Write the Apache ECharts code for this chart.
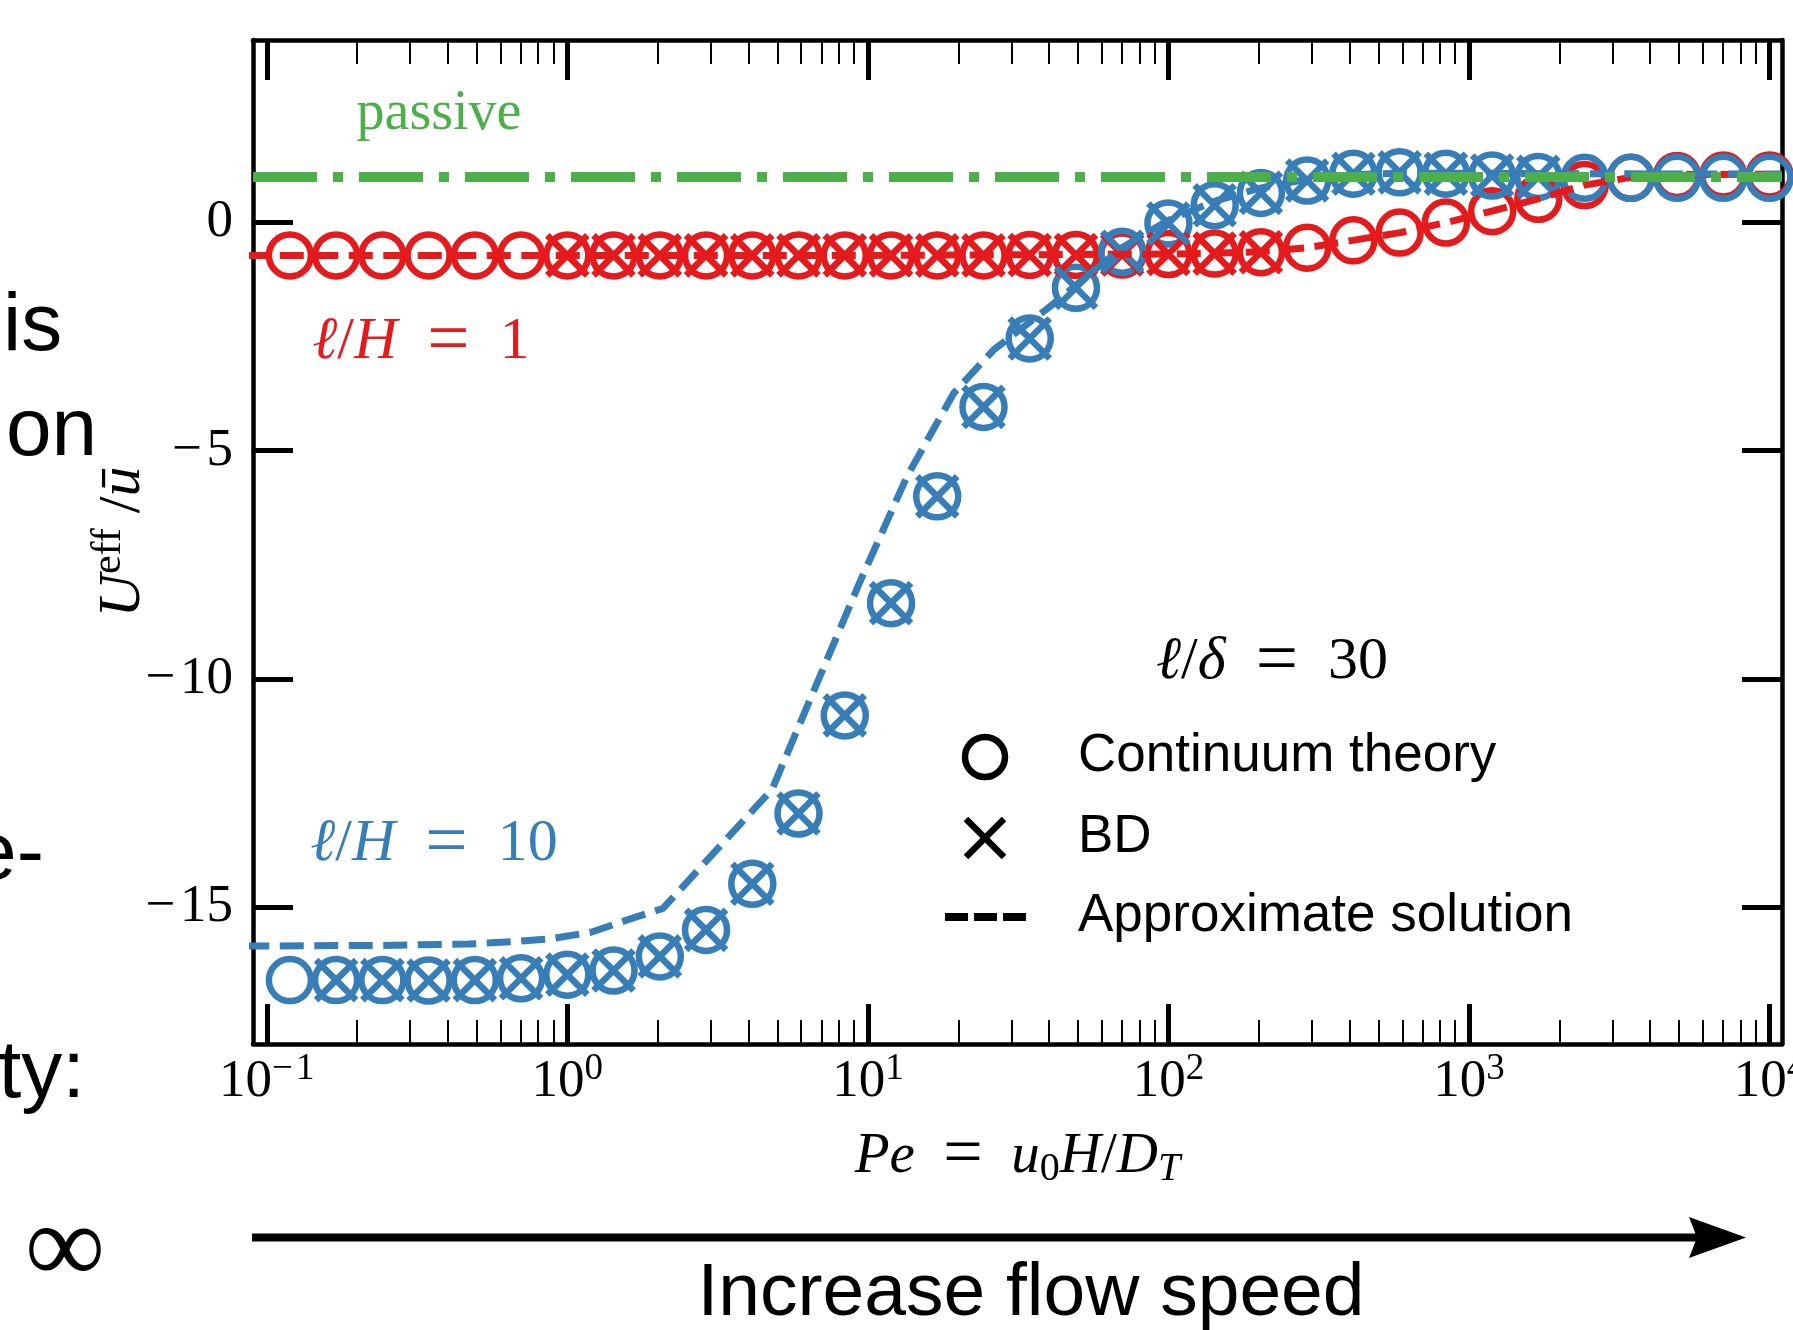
<!DOCTYPE html>
<html><head><meta charset="utf-8">
<script src="https://cdn.jsdelivr.net/npm/echarts@6/dist/echarts.min.js"></script>
<style>html,body{margin:0;padding:0;background:#fff;}#c{width:1793px;height:1330px;}</style>
</head><body><div id="c"></div>
<script>
// ---------------- data ----------------
const pe = [0.1194, 0.1701, 0.2425, 0.3455, 0.4924, 0.7017, 1.0, 1.425, 2.031, 2.894, 4.125, 5.878, 8.377,
  11.94, 17.01, 24.25, 34.55, 49.24, 70.17, 100, 142.5, 203.1, 289.4, 412.5, 587.8, 837.7,
  1194, 1701, 2425, 3455, 4924, 7017, 10000];
const redContinuum = [-0.72, -0.72, -0.72, -0.72, -0.72, -0.72, -0.72, -0.72, -0.72, -0.72, -0.72, -0.72, -0.72,
  -0.72, -0.72, -0.72, -0.71, -0.71, -0.70, -0.69, -0.68, -0.65, -0.55, -0.39, -0.22, 0.0,
  0.25, 0.52, 0.82, 0.98, 1.02, 1.03, 1.03];
const blueContinuum = [-16.60, -16.60, -16.60, -16.61, -16.60, -16.56, -16.48, -16.39, -16.08, -15.50, -14.49, -12.95, -10.80,
  -8.34, -6.00, -4.04, -2.54, -1.43, -0.64, -0.02, 0.38, 0.65, 0.92, 1.07, 1.10, 1.07,
  1.03, 1.00, 0.98, 0.98, 0.98, 0.98, 0.98];
const peBDred = [1.0, 1.425, 2.031, 2.894, 4.125, 5.878, 8.377, 11.94, 17.01, 24.25, 34.55, 49.24, 70.17, 100, 142.5, 203.1];
const redBD = [-0.72, -0.72, -0.72, -0.72, -0.72, -0.72, -0.72, -0.72, -0.72, -0.72, -0.71, -0.71, -0.70, -0.69, -0.68, -0.65];
const peBDblue = [0.1701, 0.2425, 0.3455, 0.4924, 0.7017, 1.0, 1.425, 2.031, 2.894, 4.125, 5.878, 8.377,
  11.94, 17.01, 24.25, 34.55, 49.24, 70.17, 100, 142.5, 203.1, 289.4, 412.5, 587.8, 837.7, 1194, 1701];
const blueBD = [-16.60, -16.60, -16.61, -16.60, -16.56, -16.48, -16.39, -16.08, -15.50, -14.49, -12.95, -10.80,
  -8.34, -6.00, -4.04, -2.54, -1.43, -0.64, -0.02, 0.38, 0.65, 0.92, 1.07, 1.10, 1.07, 1.03, 1.00];
const peApproxRed = [0.05, 10, 100, 150, 200, 290, 410, 590, 840, 1190, 1700, 2420, 3460, 4920, 11000];
const redApprox = [-0.72, -0.72, -0.69, -0.67, -0.64, -0.55, -0.39, -0.22, 0.0, 0.25, 0.52, 0.82, 0.99, 1.05, 1.06];
const peApproxBlue = [0.05, 0.24, 0.47, 0.65, 0.87, 1.2, 1.6, 2.08, 4.8, 9.4, 13.5, 19.3, 26.2, 40.4, 70, 100, 140, 200, 290, 410, 590, 1000, 2000, 11000];
const blueApprox = [-15.86, -15.84, -15.81, -15.76, -15.70, -15.55, -15.27, -15.03, -12.42, -7.88, -5.56, -3.74, -2.79, -1.84, -0.55, 0.05, 0.45, 0.75, 0.95, 1.05, 1.08, 1.08, 1.07, 1.06];
const pePassive = [0.09, 11000];
const passive = [1, 1];
const xTickValues = [0.1, 1, 10, 100, 1000, 10000];
const xTickExponents = ['−\u200a1', '0', '1', '2', '3', '4'];
const xMinorTicks = [0.2,0.3,0.4,0.5,0.6,0.7,0.8,0.9, 2,3,4,5,6,7,8,9, 20,30,40,50,60,70,80,90,
  200,300,400,500,600,700,800,900, 2000,3000,4000,5000,6000,7000,8000,9000];
const yTickValues = [-15, -10, -5, 0];
const yTickLabels = ['−\u200a15', '−\u200a10', '−\u200a5', '0'];

// ---------------- style ----------------
const RED = '#e41a1c', BLUE = '#377eb8', GREEN = '#4daf4a', K = '#000';
const SERIF = "'Liberation Serif', 'DejaVu Serif', serif";
const SANS = "'Liberation Sans', Arial, sans-serif";
const XSYM = 'path://M0,0L10,10M10,0L0,10';
const SP = '\u2005';

function zip(xs, ys) { return xs.map((x, i) => [x, ys[i]]); }
function findIdx(arr, v) {
  for (let i = 0; i < arr.length; i++) if (Math.abs(arr[i] - v) <= 1e-6 * Math.abs(arr[i]) + 1e-9) return i;
  return -1;
}

const chart = echarts.init(document.getElementById('c'), null, {renderer: 'canvas'});

function logAxis(pos, ticks, len, w, showLine, label) {
  return {
    type: 'log', logBase: 10, position: pos, min: 0.09, max: 11000,
    axisLine: {show: showLine, onZero: false, lineStyle: {color: K, width: 4.5}},
    axisTick: {show: true, inside: true, length: len, lineStyle: {color: K, width: w}, customValues: ticks},
    minorTick: {show: false}, splitLine: {show: false}, minorSplitLine: {show: false},
    axisLabel: label || {show: false}
  };
}
function valAxis(pos, label) {
  return {
    type: 'value', position: pos, min: -18, max: 4,
    axisLine: {show: true, onZero: false, lineStyle: {color: K, width: 4.5}},
    axisTick: {show: true, inside: true, length: 40, lineStyle: {color: K, width: 5}, customValues: yTickValues},
    splitLine: {show: false},
    axisLabel: label || {show: false}
  };
}

const xMain = logAxis('bottom', xTickValues, 40, 5, true, {
  show: true, customValues: xTickValues, margin: 10,
  formatter: v => { const i = findIdx(xTickValues, v); return i < 0 ? '' : '{b|10}{s|' + xTickExponents[i] + '}'; },
  rich: {
    b: {fontFamily: SERIF, fontSize: 53, lineHeight: 56, color: K},
    s: {fontFamily: SERIF, fontSize: 37, height: 30, verticalAlign: 'top', color: K}
  }
});
xMain.name = '{i|Pe}{n|' + SP + SP + '}{eq|=}{n|' + SP + SP + '}{i|u}{sub|0}{i|H}{n|/}{i|D}{subi|T}';
xMain.nameLocation = 'middle';
xMain.nameGap = 82;
xMain.nameMoveOverlap = false;
xMain.nameTextStyle = {
  rich: {
    i: {fontFamily: SERIF, fontStyle: 'italic', fontSize: 57, lineHeight: 62, color: K},
    n: {fontFamily: SERIF, fontSize: 57, lineHeight: 62, color: K},
    eq: {fontFamily: SERIF, fontSize: 70, lineHeight: 62, color: K},
    sub: {fontFamily: SERIF, fontSize: 40, height: 38, verticalAlign: 'bottom', color: K},
    subi: {fontFamily: SERIF, fontStyle: 'italic', fontSize: 40, height: 38, verticalAlign: 'bottom', color: K}
  }
};

const yMain = valAxis('left', {
  show: true, customValues: yTickValues, margin: 20,
  formatter: v => { const i = findIdx(yTickValues, v); return i < 0 ? '' : yTickLabels[i]; },
  fontFamily: SERIF, fontSize: 53, color: K
});
yMain.name = '{i|U}{s|eff}{n| /}{i|ū}';
yMain.nameLocation = 'middle';
yMain.nameRotate = 90;
yMain.nameGap = 98;
yMain.nameMoveOverlap = false;
yMain.nameTextStyle = {
  rich: {
    i: {fontFamily: SERIF, fontStyle: 'italic', fontSize: 60, lineHeight: 64, color: K},
    n: {fontFamily: SERIF, fontSize: 60, lineHeight: 64, color: K},
    s: {fontFamily: SERIF, fontSize: 42, height: 36, verticalAlign: 'top', color: K}
  }
};

function txt(x, y, text, size, family, fill, align, rich) {
  const st = {text: text, x: 0, y: 0, fontSize: size, fontFamily: family, fill: fill, align: align || 'center', verticalAlign: 'middle'};
  if (rich) st.rich = rich;
  return {type: 'text', x: x, y: y, style: st, silent: true};
}
function mathRich(size, color) {
  return {
    i: {fontFamily: SERIF, fontStyle: 'italic', fontSize: size, fill: color},
    n: {fontFamily: SERIF, fontSize: size, fill: color},
    eq: {fontFamily: SERIF, fontSize: size * 1.25, fill: color}
  };
}
function eqLabel(lhsItalic, rhs) {
  return '{i|ℓ}{n|/}{i|' + lhsItalic + '}{n|' + SP + SP + '}{eq|=}{n|' + SP + SP + rhs + '}';
}

const graphics = [
  // in-plot annotations
  txt(439, 114, 'passive', 56, SERIF, GREEN),
  txt(421, 342, eqLabel('H', '1'), 60, SERIF, RED, 'center', mathRich(60, RED)),
  txt(434, 844, eqLabel('H', '10'), 60, SERIF, BLUE, 'center', mathRich(60, BLUE)),
  txt(1272, 662, eqLabel('δ', '30'), 60, SERIF, K, 'center', mathRich(60, K)),
  // legend
  {type: 'circle', shape: {cx: 985, cy: 757, r: 20}, style: {fill: 'none', stroke: K, lineWidth: 6.5}, silent: true},
  {type: 'line', shape: {x1: 966, y1: 819, x2: 1004, y2: 857}, style: {stroke: K, lineWidth: 6.5}, silent: true},
  {type: 'line', shape: {x1: 1004, y1: 819, x2: 966, y2: 857}, style: {stroke: K, lineWidth: 6.5}, silent: true},
  {type: 'line', shape: {x1: 945, y1: 917, x2: 1026, y2: 917}, style: {stroke: K, lineWidth: 8, lineDash: [23, 6]}, silent: true},
  txt(1078, 756, 'Continuum theory', 53, SANS, K, 'left'),
  txt(1078, 837, 'BD', 53, SANS, K, 'left'),
  txt(1078, 916, 'Approximate solution', 53, SANS, K, 'left'),
  // slide fragments on the left
  txt(3, 327, 'is', 82, SANS, K, 'left'),
  txt(6, 432, 'on', 82, SANS, K, 'left'),
  txt(44, 856, 'e-', 82, SANS, K, 'right'),
  txt(85, 1074, 'ty:', 82, SANS, K, 'right'),
  txt(65, 1253, '∞', 112, SERIF, K, 'center'),
  // arrow and caption
  {type: 'line', shape: {x1: 252, y1: 1237.5, x2: 1698, y2: 1237.5}, style: {stroke: K, lineWidth: 8}, silent: true},
  {type: 'polygon', shape: {points: [[1746, 1237.5], [1689, 1217], [1697, 1237.5], [1689, 1258]]}, style: {fill: K}, silent: true},
  txt(1031, 1294, 'Increase flow speed', 75, SANS, K, 'center')
];

const MK = {opacity: 1, color: 'rgba(0,0,0,0)', borderWidth: 6.5};
const option = {
  animation: false,
  backgroundColor: '#fff',
  grid: {left: 253, top: 40, width: 1529, height: 1004, containLabel: false, outerBoundsMode: 'none'},
  xAxis: [
    xMain,
    logAxis('bottom', xMinorTicks, 24, 2, false),
    logAxis('top', xTickValues, 40, 5, true),
    logAxis('top', xMinorTicks, 24, 2, false)
  ],
  yAxis: [yMain, valAxis('right')],
  series: [
    {type: 'scatter', name: 'red continuum', data: zip(pe, redContinuum), symbol: 'circle', symbolSize: 42, clip: false,
      itemStyle: Object.assign({borderColor: RED}, MK), emphasis: {disabled: true}},
    {type: 'scatter', name: 'blue continuum', data: zip(pe, blueContinuum), symbol: 'circle', symbolSize: 42, clip: false,
      itemStyle: Object.assign({borderColor: BLUE}, MK), emphasis: {disabled: true}},
    {type: 'scatter', name: 'red BD', data: zip(peBDred, redBD), symbol: XSYM, symbolSize: 40, clip: false,
      itemStyle: Object.assign({borderColor: RED}, MK), emphasis: {disabled: true}},
    {type: 'scatter', name: 'blue BD', data: zip(peBDblue, blueBD), symbol: XSYM, symbolSize: 40, clip: false,
      itemStyle: Object.assign({borderColor: BLUE}, MK), emphasis: {disabled: true}},
    {type: 'line', name: 'red approx', data: zip(peApproxRed, redApprox), symbol: 'none', clip: true,
      lineStyle: {color: RED, width: 7, type: [24, 10.5], cap: 'butt', opacity: 1}, emphasis: {disabled: true}},
    {type: 'line', name: 'blue approx', data: zip(peApproxBlue, blueApprox), symbol: 'none', clip: true,
      lineStyle: {color: BLUE, width: 7, type: [24, 10.5], cap: 'butt', opacity: 1}, emphasis: {disabled: true}},
    {type: 'line', name: 'passive', data: zip(pePassive, passive), symbol: 'none', clip: true,
      lineStyle: {color: GREEN, width: 10, type: [64, 16, 10, 16], cap: 'butt', opacity: 1}, emphasis: {disabled: true}}
  ],
  graphic: graphics
};
chart.setOption(option);
</script>
</body></html>
